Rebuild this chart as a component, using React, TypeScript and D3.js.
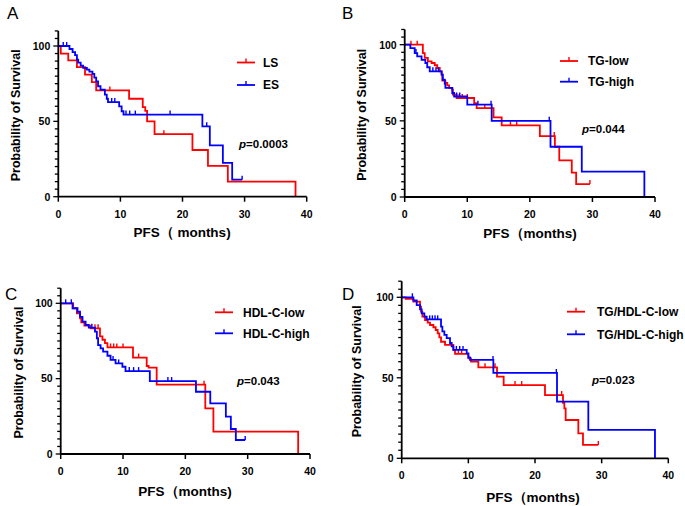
import React from "react";
import * as d3 from "d3";

// ---------- DATA ----------
const xTicks = [0, 10, 20, 30, 40];
const yTickLabels = [0, 50, 100];

// Panel A
const A_LS: [number, number][] = [[0,100],[0.4,95],[1.6,90.5],[3.0,86],[4.3,81],[5.4,76],[6.1,70.5],[11.4,65],[13.6,59.5],[14.0,57],[14.3,50],[15.5,41.5],[21.6,31],[24.1,20.5],[27.3,10],[38.2,0]];
const A_LS_cens = [8.3, 17.0];
const A_ES: [number, number][] = [[0,100],[1.8,98],[2.3,96],[2.7,94],[3.0,91],[3.2,89],[3.6,87],[4.0,85.5],[4.6,84.3],[5.0,83],[5.5,81.5],[5.8,79],[6.1,76.5],[6.4,73.3],[6.8,71],[7.5,67.7],[7.8,65],[8.0,62.8],[9.8,60],[10.2,56.7],[10.5,54.5],[23.2,46.7],[24.4,34],[26.5,22.4],[28.0,11.3]];
const A_ES_cens = [0.8, 1.35, 8.6, 9.1, 10.9, 11.5, 12.4, 18.0, 23.9, 29.6];

// Panel B
const B_low: [number, number][] = [[0,100],[2.9,94.5],[3.2,91.3],[3.7,89],[4.3,88],[4.8,86.5],[5.2,84.7],[5.6,82.5],[5.9,80.3],[6.0,76.4],[6.5,75],[6.8,73.3],[7.1,71.6],[7.6,70.5],[7.7,67.2],[8.3,65],[11.1,61.7],[11.5,58.4],[14.2,52.3],[15.5,47],[21.6,40],[24.0,33],[24.7,24],[26.7,16],[27.4,8.5]];
const B_low_cens = [1.0, 2.0, 8.7, 9.2, 10.0, 12.8, 16.9, 17.9, 23.9, 29.6];
const B_high: [number, number][] = [[0,100],[0.9,97.8],[1.6,94.5],[2.0,92.3],[2.7,90],[3.3,88],[3.6,85.2],[4.0,82.5],[5.9,80.3],[6.1,77],[6.4,74.3],[6.5,71.6],[7.6,68.3],[7.9,66],[10.0,60.6],[13.9,50],[23.3,33],[28.3,16.6],[38.3,0]];
const B_high_cens = [1.8, 4.5, 5.0, 5.4, 8.3, 8.8, 11.7, 13.8, 23.1];

// Panel C
const C_low: [number, number][] = [[0,100],[2.0,96.7],[2.6,93.3],[3.1,90],[3.3,87.4],[3.8,85.2],[4.8,83.4],[6.3,78],[6.7,75.8],[7.1,73.6],[7.5,70.7],[11.6,64],[13.8,58.4],[14.1,57.3],[15.4,46],[23.2,30.3],[24.5,14.8],[38.1,0]];
const C_low_cens = [5.5, 6.0, 8.0, 8.5, 9.0, 10.0, 12.5, 23.0];
const C_high: [number, number][] = [[0,100],[1.9,96.7],[2.7,94.4],[3.1,91],[3.5,87.8],[4.0,85.6],[4.5,83.8],[5.5,81.2],[5.8,76.8],[6.0,72.3],[6.4,70.1],[6.8,67.9],[7.5,65.2],[8.0,62.4],[8.8,60.1],[9.9,57.9],[10.4,55],[14.3,48.4],[21.7,41.3],[24.0,33.6],[26.5,24.8],[27.3,16.6],[28.1,9.3]];
const C_high_cens = [0.8, 1.7, 5.0, 8.4, 9.3, 11.0, 11.7, 12.5, 17.2, 17.8, 29.6];

// Panel D
const D_low: [number, number][] = [[0,100],[0.6,99],[1.75,97.3],[2.75,94.2],[2.9,91.1],[3.1,88],[3.5,85.9],[3.9,84.3],[4.25,82.8],[4.75,81.4],[5.1,79.7],[5.4,77.6],[5.65,75.1],[5.9,72.4],[6.5,70.4],[7.75,67.3],[8.0,64.8],[10.0,62.1],[10.4,60.1],[11.5,56.5],[14.3,50.7],[15.3,45.5],[21.5,39.3],[24.2,34.5],[24.4,31],[24.6,23.8],[26.5,15.5],[27.2,8.3]];
const D_low_cens = [8.5, 9.0, 12.5, 14.0, 17.0, 18.0, 24.0, 29.5];
const D_high: [number, number][] = [[0,100],[1.75,98],[2.25,95.2],[2.75,92.5],[3.0,90],[3.4,88],[3.75,86.3],[5.9,81.8],[6.1,78.8],[6.4,76.7],[6.75,74.7],[7.25,71.6],[7.5,69.5],[7.75,67.3],[9.75,65.2],[10.0,62.7],[10.25,61.1],[13.75,53],[23.3,35.2],[28.0,17.6],[38.0,0]];
const D_high_cens = [1.6, 4.2, 4.6, 5.0, 5.4, 8.2, 8.7, 9.2, 13.7, 23.2];

const RED = "#ff0000";
const BLUE = "#0000ff";
const FONT = "'Liberation Sans', Arial, sans-serif";

type Series = { steps: [number, number][]; cens: number[]; color: string; name: string };

type PanelCfg = {
  letter: string;
  letterX: number; letterY: number;
  x0: number; x40: number; y0: number; y100: number;
  xTitle: string; xTitleX: number; xTitleY: number;
  yTitleX: number;
  series: Series[];
  legX: number; legY: number; legDy: number; legTextX: number;
  pText: string; pX: number; pY: number;
};

const panels: PanelCfg[] = [
  { letter: "A", letterX: 7, letterY: 19, x0: 58.3, x40: 306.7, y0: 196.7, y100: 46,
    xTitle: "PFS（ months)", xTitleX: 182, xTitleY: 237, yTitleX: 15,
    series: [{ steps: A_LS, cens: A_LS_cens, color: RED, name: "LS" }, { steps: A_ES, cens: A_ES_cens, color: BLUE, name: "ES" }],
    legX: 237, legY: 62.5, legDy: 22.5, legTextX: 263, pText: "0.0003", pX: 239, pY: 148 },
  { letter: "B", letterX: 342, letterY: 19, x0: 404.7, x40: 655, y0: 197, y100: 44.7,
    xTitle: "PFS（months)", xTitleX: 530, xTitleY: 237.5, yTitleX: 361.5,
    series: [{ steps: B_low, cens: B_low_cens, color: RED, name: "TG-low" }, { steps: B_high, cens: B_high_cens, color: BLUE, name: "TG-high" }],
    legX: 560, legY: 61, legDy: 20.7, legTextX: 588, pText: "0.044", pX: 582, pY: 133 },
  { letter: "C", letterX: 5, letterY: 300, x0: 60.7, x40: 310, y0: 454, y100: 303.3,
    xTitle: "PFS（months)", xTitleX: 185, xTitleY: 495.5, yTitleX: 18.3,
    series: [{ steps: C_low, cens: C_low_cens, color: RED, name: "HDL-C-low" }, { steps: C_high, cens: C_high_cens, color: BLUE, name: "HDL-C-high" }],
    legX: 215, legY: 312.3, legDy: 21, legTextX: 243, pText: "0.043", pX: 237, pY: 385 },
  { letter: "D", letterX: 342, letterY: 300, x0: 401.7, x40: 668.3, y0: 458.3, y100: 297.3,
    xTitle: "PFS（months)", xTitleX: 533, xTitleY: 502, yTitleX: 356.7,
    series: [{ steps: D_low, cens: D_low_cens, color: RED, name: "TG/HDL-C-low" }, { steps: D_high, cens: D_high_cens, color: BLUE, name: "TG/HDL-C-high" }],
    legX: 567, legY: 311.7, legDy: 22.6, legTextX: 597, pText: "0.023", pX: 592, pY: 384 },
];

function valueAt(steps: [number, number][], t: number) {
  let v = steps[0][1];
  for (const [tt, s] of steps) { if (tt <= t + 1e-9) v = s; }
  return v;
}

function Panel({ cfg }: { cfg: PanelCfg }) {
  const x = d3.scaleLinear().domain([0, 40]).range([cfg.x0, cfg.x40]);
  const y = d3.scaleLinear().domain([0, 100]).range([cfg.y0, cfg.y100]);
  const minor = d3.range(0, 111, 5);
  const line = d3.line<[number, number]>().x(d => x(d[0])).y(d => y(d[1])).curve(d3.curveStepAfter);
  const yMid = y(54);
  return (
    <g>
      <text x={cfg.letterX} y={cfg.letterY} fontSize={17} fontFamily={FONT}>{cfg.letter}</text>
      {cfg.series.map((s, i) => {
        const last = s.steps[s.steps.length - 1];
        const end = Math.max(last[0], ...s.cens);
        const pts: [number, number][] = [...s.steps, [end, last[1]]];
        return (
          <g key={i}>
            <path d={line(pts) || ""} fill="none" stroke={s.color} strokeWidth={1.8} />
            {s.cens.map((c, j) => {
              const v = valueAt(s.steps, c);
              return <line key={j} x1={x(c)} x2={x(c)} y1={y(v)} y2={y(v) - 4} stroke={s.color} strokeWidth={1.4} />;
            })}
            <line x1={cfg.legX} x2={cfg.legX + 18} y1={cfg.legY + i * cfg.legDy} y2={cfg.legY + i * cfg.legDy} stroke={s.color} strokeWidth={1.8} />
            <line x1={cfg.legX + 9} x2={cfg.legX + 9} y1={cfg.legY + i * cfg.legDy} y2={cfg.legY + i * cfg.legDy - 4} stroke={s.color} strokeWidth={1.4} />
            <text x={cfg.legTextX} y={cfg.legY + i * cfg.legDy + 4.2} fontSize={12} fontWeight="bold" fontFamily={FONT}>{s.name}</text>
          </g>
        );
      })}
      {/* axes */}
      <line x1={x(0)} x2={x(0)} y1={y(0)} y2={y(110)} stroke="#000" strokeWidth={1.8} />
      <line x1={x(0)} x2={x(40)} y1={y(0)} y2={y(0)} stroke="#000" strokeWidth={1.8} />
      {minor.map(v => (
        <line key={v} x1={x(0)} x2={x(0) - (v % 50 === 0 ? 5 : 3.5)} y1={y(v)} y2={y(v)} stroke="#000" strokeWidth={1.3} />
      ))}
      {yTickLabels.map(v => (
        <text key={v} x={x(0) - 8} y={y(v) + 3.8} textAnchor="end" fontSize={10.5} fontWeight="bold" fontFamily={FONT}>{v}</text>
      ))}
      {xTicks.map(v => (
        <g key={v}>
          <line x1={x(v)} x2={x(v)} y1={y(0)} y2={y(0) + 5} stroke="#000" strokeWidth={1.5} />
          <text x={x(v)} y={y(0) + 21} textAnchor="middle" fontSize={10.5} fontWeight="bold" fontFamily={FONT}>{v}</text>
        </g>
      ))}
      <text x={cfg.xTitleX} y={cfg.xTitleY} textAnchor="middle" fontSize={13.5} fontWeight="bold" fontFamily={FONT}>{cfg.xTitle}</text>
      <text transform={`translate(${cfg.yTitleX + 4.5},${yMid}) rotate(-90)`} textAnchor="middle" fontSize={12.5} fontWeight="bold" fontFamily={FONT}>Probability of Survival</text>
      <text x={cfg.pX} y={cfg.pY} fontSize={11.5} fontWeight="bold" fontFamily={FONT}>
        <tspan fontStyle="italic">p</tspan>={cfg.pText}
      </text>
    </g>
  );
}

export default function App() {
  return (
    <svg width={685} height={506} style={{ position: "absolute", left: 0, top: 0, background: "#fff" }}>
      <rect width={685} height={506} fill="#fff" />
      {panels.map((p, i) => <Panel key={i} cfg={p} />)}
    </svg>
  );
}
